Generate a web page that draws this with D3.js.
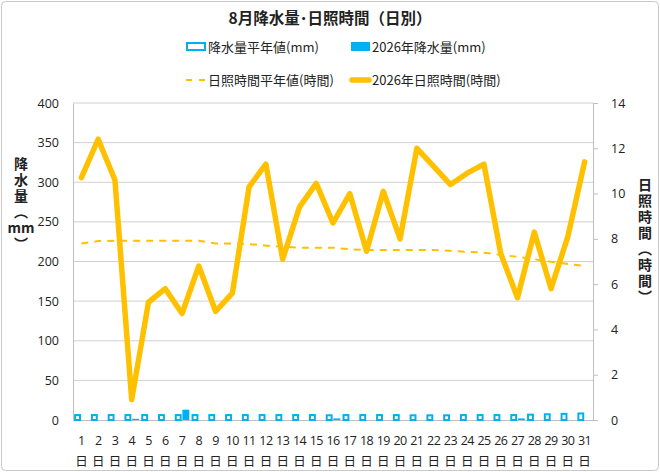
<!DOCTYPE html>
<html>
<head>
<meta charset="utf-8">
<script src="https://cdn.jsdelivr.net/npm/d3@7"></script>
<style>
  body { margin: 0; background: #fff; }
  svg text { font-family: "Noto Sans CJK JP", "Noto Sans", sans-serif; fill: #222; }
</style>
</head>
<body>
<svg id="chart" width="660" height="472"></svg>
<script>
const days = d3.range(1, 32);
const rainAvg = [7.5, 7.5, 7.5, 7.5, 7.5, 7.5, 7.5, 7.5, 7.5, 7.5, 7.5, 7.5, 7.5, 7.5, 7.5, 7.2,
  7.5, 7.5, 7.5, 7.5, 7.2, 7.2, 7.2, 7.5, 7.5, 7.5, 7.5, 8, 8.5, 9, 9.5];
const rain2026 = [0, 0, 0, 1.5, 0, 0, 13, 0, 0, 0, 0, 0, 0, 0, 0, 2,
  0, 0, 0, 0, 0, 0, 0, 0, 0, 0, 2, 0, 0, 0, 0];
const sunAvg = [7.8, 7.9, 7.92, 7.92, 7.92, 7.92, 7.92, 7.92, 7.8, 7.8, 7.77, 7.7, 7.66, 7.61, 7.61, 7.61,
  7.54, 7.51, 7.51, 7.51, 7.51, 7.51, 7.47, 7.43, 7.39, 7.29, 7.21, 7.1, 6.99, 6.89, 6.8];
const sun2026 = [10.7, 12.4, 10.6, 0.9, 5.2, 5.8, 4.7, 6.8, 4.8, 5.6, 10.3, 11.3, 7.1, 9.4, 10.45, 8.7,
  10.0, 7.45, 10.1, 8.0, 12.0, 11.2, 10.4, 10.9, 11.3, 7.35, 5.4, 8.3, 5.8, 8.1, 11.4];
const rainTicks = d3.range(0, 401, 50);
const sunTicks = d3.range(0, 15, 2);

const svg = d3.select("#chart");
const blue = "#00B0F0", orange = "#FFC000", grid = "#D0D0D0";

svg.append("rect")
  .attr("x", 1.5).attr("y", 1.5).attr("width", 657).attr("height", 469)
  .attr("rx", 4).attr("fill", "#fff").attr("stroke", "#C8C8C8");

const plotL = 73, plotR = 593, plotT = 103, plotB = 420;

const x = d3.scaleBand().domain(days).range([plotL, plotR]);
const xs = d3.scaleBand().domain(["avg", "y2026"]).range([0, x.bandwidth()])
  .paddingInner(0.1).paddingOuter(0.15);
const yL = d3.scaleLinear().domain([0, 400]).range([plotB, plotT]);
const yR = d3.scaleLinear().domain([0, 14]).range([plotB, plotT]);

// title
svg.append("text").attr("x", 330).attr("y", 24).attr("text-anchor", "middle")
  .attr("font-size", 15.5).attr("font-weight", "bold").text("8月降水量･日照時間（日別）");

// gridlines
svg.append("g").selectAll("line").data(rainTicks.filter(d => d > 0)).join("line")
  .attr("x1", plotL).attr("x2", plotR)
  .attr("y1", d => yL(d)).attr("y2", d => yL(d))
  .attr("stroke", grid).attr("stroke-width", 1);

// left axis
const gL = svg.append("g").attr("transform", `translate(${plotL},0)`)
  .call(d3.axisLeft(yL).tickValues(rainTicks).tickSize(0).tickPadding(14));
gL.select(".domain").attr("stroke", "#BFBFBF");
gL.selectAll("text").attr("font-size", 12.5).style("font-family", "'Open Sans', sans-serif").attr("fill", "#222");

// right axis
const gR = svg.append("g").attr("transform", `translate(${plotR},0)`)
  .call(d3.axisRight(yR).tickValues(sunTicks).tickSize(5).tickPadding(13));
gR.select(".domain").attr("stroke", "#BFBFBF");
gR.selectAll(".tick line").attr("stroke", "#BFBFBF");
gR.selectAll("text").attr("font-size", 12.5).style("font-family", "'Open Sans', sans-serif").attr("fill", "#222");

// bottom axis line
svg.append("line").attr("x1", plotL).attr("x2", plotR + 5)
  .attr("y1", plotB + 0.5).attr("y2", plotB + 0.5).attr("stroke", "#BFBFBF");

// x labels
const xl = svg.append("g");
xl.selectAll("text.num").data(days).join("text").attr("class", "num")
  .attr("x", d => x(d) + x.bandwidth() / 2).attr("y", 445)
  .attr("text-anchor", "middle").attr("font-size", 12.5)
  .style("font-family", "'Open Sans', sans-serif").attr("letter-spacing", -0.6)
  .text(d => d);
xl.selectAll("text.day").data(days).join("text").attr("class", "day")
  .attr("x", d => x(d) + x.bandwidth() / 2).attr("y", 466)
  .attr("text-anchor", "middle").attr("font-size", 12.5).text("日");

// bars
svg.append("g").selectAll("rect").data(days).join("rect")
  .attr("x", d => x(d) + xs("avg") + 1)
  .attr("width", xs.bandwidth() - 2)
  .attr("y", (d, i) => yL(rainAvg[i]) + 1)
  .attr("height", (d, i) => plotB - yL(rainAvg[i]) - 1)
  .attr("fill", "#fff").attr("stroke", blue).attr("stroke-width", 2);
svg.append("g").selectAll("rect").data(days).join("rect")
  .attr("x", d => x(d) + xs("y2026"))
  .attr("width", xs.bandwidth())
  .attr("y", (d, i) => yL(rain2026[i]))
  .attr("height", (d, i) => plotB - yL(rain2026[i]))
  .attr("fill", blue);

// lines
const cx = d => x(d) + x.bandwidth() / 2;
svg.append("path").datum(days)
  .attr("d", d3.line().x(cx).y((d, i) => yR(sunAvg[i])))
  .attr("fill", "none").attr("stroke", orange).attr("stroke-width", 2)
  .attr("stroke-dasharray", "7,6");
svg.append("path").datum(days)
  .attr("d", d3.line().x(cx).y((d, i) => yR(sun2026[i])))
  .attr("fill", "none").attr("stroke", orange).attr("stroke-width", 5.5)
  .attr("stroke-linejoin", "round").attr("stroke-linecap", "round");

// legend
const lg = svg.append("g").attr("font-size", 13);
lg.append("rect").attr("x", 187).attr("y", 43).attr("width", 18).attr("height", 7)
  .attr("fill", "#fff").attr("stroke", blue).attr("stroke-width", 2);
lg.append("text").attr("x", 208).attr("y", 52).text("降水量平年値(mm)");
lg.append("rect").attr("x", 351).attr("y", 42).attr("width", 19).attr("height", 9).attr("fill", blue);
lg.append("text").attr("x", 372).attr("y", 52).text("2026年降水量(mm)");
lg.append("line").attr("x1", 186).attr("x2", 206).attr("y1", 80).attr("y2", 80)
  .attr("stroke", orange).attr("stroke-width", 2).attr("stroke-dasharray", "6,7");
lg.append("text").attr("x", 208).attr("y", 85).text("日照時間平年値(時間)");
lg.append("line").attr("x1", 352).attr("x2", 369).attr("y1", 80).attr("y2", 80)
  .attr("stroke", orange).attr("stroke-width", 5.5).attr("stroke-linecap", "round");
lg.append("text").attr("x", 372).attr("y", 85).text("2026年日照時間(時間)");

// vertical axis titles
const vtext = (tx, ty, str) => svg.append("text")
  .attr("x", tx).attr("y", ty)
  .attr("writing-mode", "vertical-rl").attr("letter-spacing", 2)
  .attr("font-size", 14).attr("font-weight", "bold").text(str);
vtext(21, 157, "降水量（");
svg.append("text").attr("x", 21).attr("y", 233).attr("text-anchor", "middle")
  .attr("font-size", 14).attr("font-weight", "bold").text("mm");
vtext(21, 237, "）");
vtext(645, 178, "日照時間（時間）");
</script>
</body>
</html>
